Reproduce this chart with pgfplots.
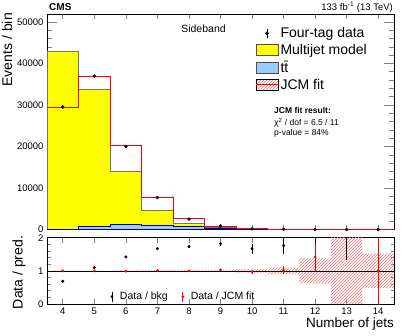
\documentclass[border=0pt]{standalone}
\usepackage{fontspec}
\setmainfont{Liberation Sans}
\usepackage{pgfplots}
\pgfplotsset{compat=1.18}
\usetikzlibrary{patterns}

\definecolor{mjyellow}{RGB}{255,255,0}
\definecolor{ttblue}{RGB}{153,204,255}
\definecolor{jcmred}{RGB}{255,0,0}

\pgfplotsset{
  cmsax/.style={
    scale only axis, width=347pt,
    xmin=3.5, xmax=14.5, xtick={4,...,14},
    tick align=inside,
    axis line style={line width=0.7pt},
    xtick style={/pgfplots/major tick length=5pt, line width=0.6pt},
    ytick style={line width=0.6pt},
    minor y tick style={line width=0.5pt},
    tick label style={font=\fontsize{9.5}{11}\selectfont},
    /pgf/number format/assume math mode=true,
    /pgf/number format/1000 sep={},
    scaled y ticks=false,
  }
}

\begin{document}
\begin{tikzpicture}
\path[use as bounding box] (0,0) rectangle (407pt,335pt);

% ---- upper panel: event yields
\begin{axis}[cmsax,
    at={(47pt,105.5pt)}, anchor=south west, height=215.5pt,
    ymin=0, ymax=51900,
    ytick={0,10000,...,50000}, minor y tick num=4,
    ytick style={/pgfplots/major tick length=10pt, line width=0.6pt},
    minor y tick style={/pgfplots/minor tick length=5pt, line width=0.5pt},
    xticklabels={},
    legend style={at={(0.6,0.948)}, anchor=north west, draw=none, fill=none,
      font=\fontsize{14}{15}\selectfont, row sep=1.3pt, inner sep=0pt},
    legend cell align=left,
]
% multijet + ttbar (stack total)
\addplot[forget plot, const plot, fill=mjyellow, draw=black!55, line width=0.6pt] coordinates {
  (3.5,43000)(4.5,33700)(5.5,14100)(6.5,4600)(7.5,1450)(8.5,470)(9.5,90)(10.5,23)(11.5,5)(12.5,1.5)(13.5,0.5)(14.5,0.5)
} \closedcycle;
% ttbar
\addplot[forget plot, const plot, fill=ttblue, draw=blue!50!black, line width=0.5pt] coordinates {
  (3.5,50)(4.5,720)(5.5,1280)(6.5,1100)(7.5,800)(8.5,300)(9.5,80)(10.5,20)(11.5,5)(12.5,1.5)(13.5,0.4)(14.5,0.4)
} \closedcycle;
% JCM fit
\addplot[forget plot, const plot, draw=jcmred, line width=1.1pt] coordinates {
  (3.5,29400)(4.5,36800)(5.5,20150)(6.5,7600)(7.5,2550)(8.5,800)(9.5,150)(10.5,40)(11.5,10)(12.5,3)(13.5,1)(14.5,1)
};
% four-tag data
\addplot[forget plot, only marks, mark=*, mark size=1.5pt, black,
  error bars/.cd, y dir=both, y explicit, error mark=none,
  error bar style={line width=0.8pt}] coordinates {
  (4,29500) +- (0,170)
  (5,36950) +- (0,190)
  (6,20000) +- (0,140)
  (7,7700) +- (0,90)
  (8,2500) +- (0,60)
  (9,850) +- (0,60)
  (10,150) +- (0,70)
  (11,40) +- (0,70)
  (12,10) +- (0,70)
  (13,3) +- (0,70)
  (14,1) +- (0,70)
};
\addlegendimage{legend image code/.code={
  \path[draw=none, fill=none] (0pt,0pt) rectangle (22pt,0pt);
  \draw[black, line width=0.8pt] (11pt,-4.5pt) -- (11pt,4.5pt);
  \fill[black] (11pt,0pt) circle (1.6pt);}}
\addlegendentry{Four-tag data}
\addlegendimage{legend image code/.code={
  \filldraw[fill=mjyellow, draw=black!70, line width=0.6pt] (0pt,-5.5pt) rectangle (22pt,5.5pt);}}
\addlegendentry{Multijet model}
\addlegendimage{legend image code/.code={
  \filldraw[fill=ttblue, draw=black!70, line width=0.6pt] (0pt,-5.5pt) rectangle (22pt,5.5pt);}}
\addlegendentry{t\={t}}
\addlegendimage{legend image code/.code={
  \fill[pattern=north east lines, pattern color=jcmred!55] (0pt,-5.5pt) rectangle (22pt,5.5pt);
  \draw[jcmred, line width=1.1pt] (0pt,0pt) -- (22pt,0pt);}}
\addlegendentry{JCM fit}
\end{axis}

% ---- lower panel: ratios
\begin{axis}[cmsax,
    at={(47pt,31pt)}, anchor=south west, height=66.3pt,
    ymin=0, ymax=2,
    ytick={0,1,2}, minor y tick num=4,
    ytick style={/pgfplots/major tick length=7pt, line width=0.6pt},
    minor y tick style={/pgfplots/minor tick length=3.5pt, line width=0.5pt},
    legend style={at={(0.178,0.11)}, anchor=west, draw=none, fill=none,
      font=\fontsize{10.5}{12}\selectfont, legend columns=2, inner sep=0pt,
      /tikz/every even column/.append style={column sep=10pt}},
    legend cell align=left,
]
% JCM fit uncertainty band
\addplot[forget plot, const plot, draw=none, pattern=north east lines, pattern color=jcmred!55] coordinates {
  (3.5,1.01)(4.5,1.01)(5.5,1.015)(6.5,1.02)(7.5,1.03)(8.5,1.03)(9.5,1.05)(10.5,1.1)(11.5,1.38)(12.5,2.2)(13.5,1.52)(14.5,1.52)
  (14.5,0.48)(13.5,0)(12.5,0.62)(11.5,0.9)(10.5,0.95)(9.5,0.97)(8.5,0.97)(7.5,0.98)(6.5,0.985)(5.5,0.99)(4.5,0.99)(3.5,0.99)
};
\addplot[forget plot, black, line width=0.7pt] coordinates {(3.5,1)(14.5,1)};
% data / bkg
\addplot[forget plot, only marks, mark=*, mark size=1.3pt, black,
  error bars/.cd, y dir=both, y explicit, error mark=none,
  error bar style={line width=0.8pt}] coordinates {
  (4,0.686) +- (0,0.005)
  (5,1.10) +- (0,0.01)
  (6,1.42) +- (0,0.015)
  (7,1.67) +- (0,0.02)
  (8,1.73) +- (0,0.04)
  (9,1.82) +- (0,0.06)
  (10,1.67) +- (0,0.15)
  (11,1.76) +- (0,0.25)
  (12,2.4) += (0,1.0) -= (0,1.37)
  (13,2.6) += (0,1.0) -= (0,1.26)
};
% data / JCM fit
\addplot[forget plot, only marks, mark=*, mark size=1.2pt, jcmred,
  error bars/.cd, y dir=both, y explicit, error mark=none,
  error bar style={line width=0.8pt}] coordinates {
  (4,1.0) +- (0,0.005)
  (5,1.0) +- (0,0.01)
  (6,0.99) +- (0,0.01)
  (7,1.01) +- (0,0.02)
  (8,1.0) +- (0,0.02)
  (9,1.03) +- (0,0.03)
  (10,0.97) +- (0,0.07)
  (11,1.02) +- (0,0.13)
  (12,1.42) +- (0,0.43)
  (14,1.0) +- (0,1.5)
};
\addlegendimage{legend image code/.code={
  \path[draw=none, fill=none] (0pt,0pt) rectangle (9pt,0pt);
  \draw[black, line width=0.8pt] (3pt,-5pt) -- (3pt,5pt);
  \fill[black] (3pt,0pt) circle (1.2pt);}}
\addlegendentry{Data / bkg}
\addlegendimage{legend image code/.code={
  \path[draw=none, fill=none] (0pt,0pt) rectangle (9pt,0pt);
  \draw[jcmred, line width=0.8pt] (3pt,-5pt) -- (3pt,5pt);
  \fill[jcmred] (3pt,0pt) circle (1.2pt);}}
\addlegendentry{Data / JCM fit}
\end{axis}

% ---- labels and annotations
\node[rotate=90, anchor=east, inner sep=0pt, font=\fontsize{14}{15}\selectfont] at (7pt,322pt) {Events / bin};
\node[rotate=90, inner sep=0pt, font=\fontsize{14}{15}\selectfont] at (19pt,62.5pt) {Data / pred.};
\node[anchor=east, inner sep=0pt, font=\fontsize{13.5}{15}\selectfont] at (394pt,11pt) {Number of jets};
\node[anchor=west, inner sep=0pt, font=\fontsize{10}{12}\selectfont\bfseries] at (49pt,328pt) {CMS};
\node[anchor=east, inner sep=0pt, font=\fontsize{9.5}{11}\selectfont] at (393pt,328pt) {133 fb\textsuperscript{-1} (13 TeV)};
\node[inner sep=0pt, font=\fontsize{10.5}{12}\selectfont] at (203.5pt,306pt) {Sideband};
\node[anchor=west, inner sep=0pt, font=\fontsize{8.5}{10}\selectfont\bfseries] at (274pt,225pt) {JCM fit result:};
\node[anchor=west, inner sep=0pt, font=\fontsize{8.5}{10}\selectfont] at (274pt,212.3pt) {χ\textsuperscript{2} / dof = 6.5 / 11};
\node[anchor=west, inner sep=0pt, font=\fontsize{8.5}{10}\selectfont] at (274pt,201.7pt) {p-value = 84\%};
\end{tikzpicture}
\end{document}
